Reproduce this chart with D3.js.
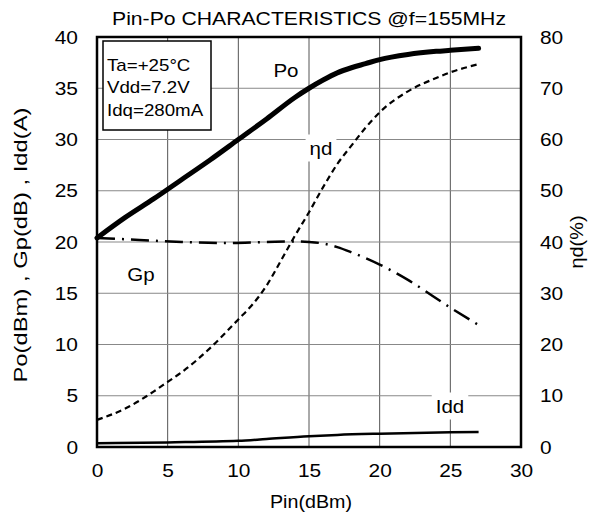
<script src="https://d3js.org/d3.v7.js"></script>
<style>
  body { margin: 0; background: #fff; }
  text { font-family: "Liberation Sans", Arial, sans-serif; fill: #000; }
</style>
<svg id="chart" width="592" height="517"></svg>
<script>
// Pin (dBm) sample points
const pinPo = [0, 2, 4, 6, 8, 10, 12, 14, 15, 16, 17, 18, 19, 20, 22, 24, 25, 27];
const po    = [20.4, 22.4, 24.2, 26.1, 28.0, 30.0, 32.0, 34.1, 35.0, 35.8, 36.5, 37.0, 37.4, 37.8, 38.3, 38.6, 38.7, 38.9];

const pinGp = [0, 3, 6, 9, 12, 14, 15, 16, 17, 18, 20, 22, 25, 27];
const gp    = [20.4, 20.2, 20.0, 19.9, 20.0, 20.05, 20.0, 19.85, 19.5, 19.0, 17.8, 16.3, 13.6, 11.9];

const pinEta = [0, 2, 4, 5, 6, 8, 10, 11, 12, 13, 14, 15, 16, 17, 18, 19, 20, 22, 24, 25, 27];
const eta    = [5.3, 7.5, 10.8, 12.7, 14.6, 19.3, 24.9, 27.8, 31.5, 36.3, 41.2, 45.8, 50.7, 55.2, 58.8, 62.3, 65.3, 69.4, 72.0, 73.1, 74.7];

const pinIdd = [0, 5, 10, 12, 15, 17, 20, 25, 27];
const idd    = [0.36, 0.45, 0.6, 0.78, 1.05, 1.18, 1.3, 1.43, 1.46];

const xTicks = [0, 5, 10, 15, 20, 25, 30];
const yLeftTicks = [0, 5, 10, 15, 20, 25, 30, 35, 40];
const yRightTicks = [0, 10, 20, 30, 40, 50, 60, 70, 80];

const svg = d3.select('#chart');
const m = {left: 97, top: 37, right: 521, bottom: 447};

const x = d3.scaleLinear().domain([0, 30]).range([m.left, m.right]);
const y = d3.scaleLinear().domain([0, 40]).range([m.bottom, m.top]);
const y2 = d3.scaleLinear().domain([0, 80]).range([m.bottom, m.top]);

// the scanned lettering is a little wider than Arial
function widen(sel, k) {
  sel.each(function() {
    const w = this.getComputedTextLength();
    d3.select(this).attr('textLength', w * k).attr('lengthAdjust', 'spacingAndGlyphs');
  });
  return sel;
}

// grid
svg.append('g')
  .selectAll('line')
  .data(xTicks.slice(1, -1))
  .join('line')
  .attr('x1', d => x(d)).attr('x2', d => x(d))
  .attr('y1', m.top).attr('y2', m.bottom)
  .attr('stroke', '#555').attr('stroke-width', 1);

svg.append('g')
  .selectAll('line')
  .data(yLeftTicks.slice(1, -1))
  .join('line')
  .attr('x1', m.left).attr('x2', m.right)
  .attr('y1', d => y(d)).attr('y2', d => y(d))
  .attr('stroke', '#888').attr('stroke-width', 1);

// axes (labels only, no tick lines)
const xAxis = svg.append('g')
  .attr('transform', `translate(0,${m.bottom})`)
  .call(d3.axisBottom(x).tickValues(xTicks).tickSize(0).tickPadding(17));
const yAxis = svg.append('g')
  .attr('transform', `translate(${m.left},0)`)
  .call(d3.axisLeft(y).tickValues(yLeftTicks).tickSize(0).tickPadding(19));
const yAxis2 = svg.append('g')
  .attr('transform', `translate(${m.right},0)`)
  .call(d3.axisRight(y2).tickValues(yRightTicks).tickSize(0).tickPadding(19));
[xAxis, yAxis, yAxis2].forEach(a => {
  a.select('.domain').remove();
  const t = a.selectAll('text').attr('font-size', 19)
    .attr('font-family', '"Liberation Sans", Arial, sans-serif').attr('fill', '#000');
  widen(t, 1.1);
});

// curve labels on white patches (break grid lines)
const labels = [
  {t: 'Po', x: 286, y: 70},
  {t: 'ηd', x: 321, y: 148},
  {t: 'Gp', x: 141, y: 274},
  {t: 'Idd', x: 450, y: 406}
];

const labG = svg.append('g');
labels.forEach(l => {
  const txt = labG.append('text')
    .attr('x', l.x).attr('y', l.y)
    .attr('text-anchor', 'middle').attr('dominant-baseline', 'central')
    .attr('font-size', 19).text(l.t);
  widen(txt, 1.08);
  const b = txt.node().getBBox();
  labG.insert('rect', 'text')
    .attr('x', b.x - 4).attr('y', b.y - 3)
    .attr('width', b.width + 8).attr('height', b.height + 6)
    .attr('fill', '#fff');
});

// curves
const line = (xs, ys, sy) => d3.line()
  .x((d, i) => x(xs[i]))
  .y(d => sy(d))
  .curve(d3.curveMonotoneX)(ys);

svg.append('path').attr('d', line(pinIdd, idd, y))
  .attr('fill', 'none').attr('stroke', '#000').attr('stroke-width', 2.5);

svg.append('path').attr('d', line(pinEta, eta, y2))
  .attr('fill', 'none').attr('stroke', '#000').attr('stroke-width', 2.2)
  .attr('stroke-dasharray', '6,4');

svg.append('path').attr('d', line(pinGp, gp, y))
  .attr('fill', 'none').attr('stroke', '#000').attr('stroke-width', 2.5)
  .attr('stroke-dasharray', '18,7,2,7');

svg.append('path').attr('d', line(pinPo, po, y))
  .attr('fill', 'none').attr('stroke', '#000').attr('stroke-width', 5)
  .attr('stroke-linecap', 'round');

// frame
svg.append('rect')
  .attr('x', m.left).attr('y', m.top)
  .attr('width', m.right - m.left).attr('height', m.bottom - m.top)
  .attr('fill', 'none').attr('stroke', '#000').attr('stroke-width', 2.5);

// condition box
svg.append('rect')
  .attr('x', 103).attr('y', 41).attr('width', 108).attr('height', 89)
  .attr('fill', '#fff').attr('stroke', '#000').attr('stroke-width', 1.5);
const cond = ['Ta=+25°C', 'Vdd=7.2V', 'Idq=280mA'];
const condText = svg.append('g').selectAll('text')
  .data(cond)
  .join('text')
  .attr('x', 107)
  .attr('y', (d, i) => 65 + i * 22.5)
  .attr('dominant-baseline', 'central')
  .attr('font-size', 17)
  .text(d => d);
widen(condText, 1.1);

// titles
svg.append('text').attr('x', 309).attr('y', 18)
  .attr('text-anchor', 'middle').attr('dominant-baseline', 'central')
  .attr('font-size', 19).attr('textLength', 394).attr('lengthAdjust', 'spacingAndGlyphs')
  .text('Pin-Po CHARACTERISTICS @f=155MHz');

svg.append('text').attr('x', 311).attr('y', 501)
  .attr('text-anchor', 'middle').attr('dominant-baseline', 'central')
  .attr('font-size', 19).attr('textLength', 82).attr('lengthAdjust', 'spacingAndGlyphs')
  .text('Pin(dBm)');

svg.append('text')
  .attr('transform', 'translate(20,245) rotate(-90)')
  .attr('text-anchor', 'middle').attr('dominant-baseline', 'central')
  .attr('font-size', 19).attr('textLength', 275).attr('lengthAdjust', 'spacingAndGlyphs')
  .text('Po(dBm) , Gp(dB) , Idd(A)');

svg.append('text')
  .attr('transform', 'translate(576,242) rotate(-90)')
  .attr('text-anchor', 'middle').attr('dominant-baseline', 'central')
  .attr('font-size', 19).attr('textLength', 53).attr('lengthAdjust', 'spacingAndGlyphs')
  .text('ηd(%)');
</script>
